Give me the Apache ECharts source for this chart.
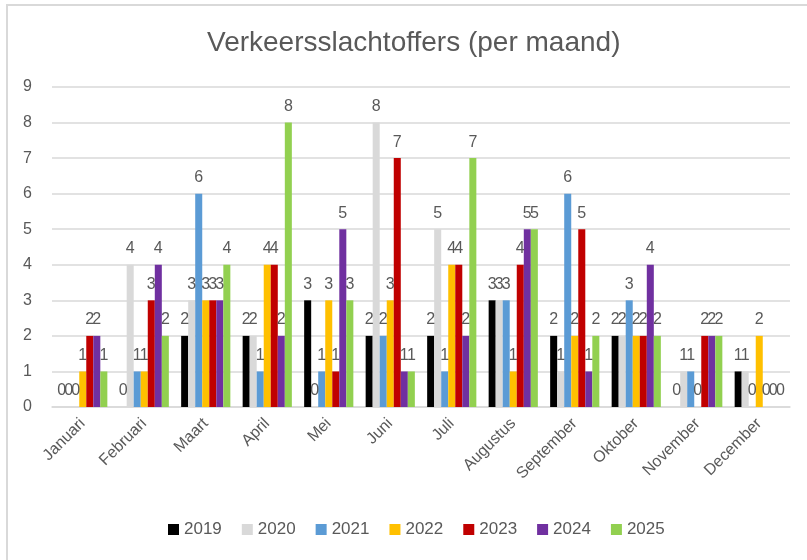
<!DOCTYPE html>
<html>
<head>
<meta charset="utf-8">
<script src="https://cdn.jsdelivr.net/npm/echarts@6/dist/echarts.min.js"></script>
<style>html,body{margin:0;padding:0;background:#fff}#c{width:807px;height:560px}</style>
</head>
<body>
<div id="c"></div>
<script>
const categories = ['Januari','Februari','Maart','April','Mei','Juni','Juli','Augustus','September','Oktober','November','December'];
const years = ['2019','2020','2021','2022','2023','2024','2025'];
const colors = ['#000000','#D9D9D9','#5B9BD5','#FFC000','#C00000','#7030A0','#92D050'];
const v2019 = [0,0,2,2,3,2,2,3,2,2,0,1];
const v2020 = [0,4,3,2,0,8,5,3,1,2,1,1];
const v2021 = [0,1,6,1,1,2,1,3,6,3,1,0];
const v2022 = [1,1,3,4,3,3,4,1,2,2,0,2];
const v2023 = [2,3,3,4,1,7,4,4,5,2,2,0];
const v2024 = [2,4,3,2,5,1,2,5,1,4,2,0];
const v2025 = [1,2,4,8,3,1,7,5,2,2,2,0];
const values = [v2019,v2020,v2021,v2022,v2023,v2024,v2025];
const yTicks = [0,1,2,3,4,5,6,7,8,9];

const txt = '#595959';
const font = 'Liberation Sans';
const chart = echarts.init(document.getElementById('c'), null, {renderer:'canvas'});
chart.setOption({
  animation:false,
  backgroundColor:'#fff',
  textStyle:{fontFamily:font},
  graphic:[{type:'rect',shape:{x:7,y:5,width:820,height:580},style:{fill:'none',stroke:'#D9D9D9',lineWidth:2},silent:true}],
  title:{text:'Verkeersslachtoffers (per maand)',left:202,top:24,textStyle:{color:txt,fontSize:28,fontWeight:'normal',fontFamily:font}},
  legend:{bottom:17,left:163,itemWidth:11,itemHeight:11,itemGap:20,icon:'rect',
    textStyle:{color:txt,fontSize:17,fontFamily:font},data:years},
  grid:{left:52,right:17,top:87,bottom:153,containLabel:false},
  xAxis:{type:'category',data:categories,
    axisLine:{lineStyle:{color:'#D9D9D9',width:1.5}},axisTick:{show:false},
    axisLabel:{rotate:45,color:txt,fontSize:16,margin:14,interval:0,fontFamily:font}},
  yAxis:{type:'value',min:yTicks[0],max:yTicks[yTicks.length-1],interval:1,
    axisLine:{show:false},axisTick:{show:false},
    splitLine:{lineStyle:{color:'#D9D9D9',width:1.5}},
    axisLabel:{color:txt,fontSize:16,margin:20,fontFamily:font}},
  series: years.map((y,i)=>({name:y,type:'bar',data:values[i],barGap:'0%',barCategoryGap:'20%',
    itemStyle:{color:colors[i]},
    label:{show:true,position:'top',distance:8,color:txt,fontSize:16,fontFamily:font}}))
});
</script>
</body>
</html>
